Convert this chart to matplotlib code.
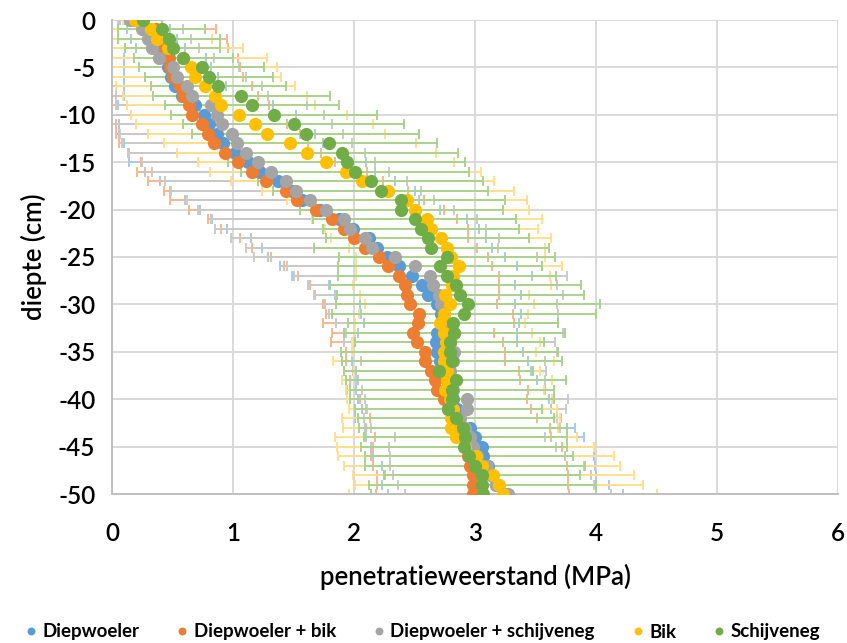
import matplotlib
matplotlib.use("Agg")
import matplotlib.pyplot as plt
from matplotlib.font_manager import FontProperties
import numpy as np

plt.rcParams['axes.unicode_minus'] = False
plt.rcParams['font.family'] = ['Lato', 'DejaVu Sans']

depth = list(range(0, -51, -1))

series_names = ["Diepwoeler", "Diepwoeler + bik", "Diepwoeler + schijveneg", "Bik", "Schijveneg"]

diepwoeler = [0.17, 0.30, 0.35, 0.40, 0.44, 0.46, 0.49, 0.52, 0.58, 0.69,
              0.76, 0.80, 0.87, 0.92, 1.02, 1.12, 1.22, 1.37, 1.49, 1.57,
              1.72, 1.88, 1.99, 2.12, 2.19, 2.27, 2.37, 2.48, 2.56, 2.61,
              2.69, 2.72, 2.72, 2.69, 2.68, 2.69, 2.71, 2.74, 2.77, 2.80,
              2.82, 2.85, 2.86, 2.96, 3.00, 3.06, 3.07, 3.11, 3.13, 3.17, 3.25]
diepwoeler_sd = [0.10, 0.18, 0.19, 0.20, 0.34, 0.36, 0.39, 0.42, 0.48, 0.64,
                 0.76, 0.74, 0.81, 0.82, 0.88, 0.98, 0.95, 0.97, 1.01, 0.97,
                 0.99, 1.05, 1.04, 0.97, 0.95, 0.98, 0.98, 0.99, 0.77, 0.77,
                 0.64, 0.66, 0.64, 0.66, 0.67, 0.71, 0.73, 0.72, 0.74, 0.78,
                 0.79, 0.78, 0.85, 0.87, 0.90, 0.92, 0.91, 0.88, 0.87, 0.94, 0.97]

dw_bik = [0.20, 0.36, 0.39, 0.43, 0.47, 0.48, 0.50, 0.56, 0.59, 0.64,
          0.66, 0.74, 0.79, 0.84, 0.93, 1.04, 1.16, 1.27, 1.44, 1.53,
          1.69, 1.82, 1.92, 2.00, 2.09, 2.21, 2.28, 2.37, 2.42, 2.44,
          2.46, 2.54, 2.53, 2.49, 2.52, 2.59, 2.59, 2.64, 2.67, 2.69,
          2.74, 2.78, 2.82, 2.86, 2.90, 2.94, 2.94, 2.96, 2.98, 2.98, 2.98]
dw_bik_sd = [0.10, 0.50, 0.56, 0.53, 0.57, 0.58, 0.58, 0.60, 0.62, 0.66,
             0.70, 0.71, 0.76, 0.78, 0.80, 0.80, 0.95, 0.97, 1.01, 1.05,
             1.05, 1.03, 1.02, 0.94, 0.93, 0.90, 0.86, 0.83, 0.78, 0.76,
             0.72, 0.77, 0.79, 0.67, 0.71, 0.66, 0.66, 0.72, 0.70, 0.75,
             0.69, 0.68, 0.69, 0.76, 0.73, 0.78, 0.80, 0.80, 0.79, 0.79, 0.80]

dw_schijf = [0.15, 0.25, 0.30, 0.33, 0.39, 0.50, 0.54, 0.62, 0.66, 0.82,
             0.87, 0.91, 0.99, 1.03, 1.11, 1.21, 1.31, 1.44, 1.52, 1.64,
             1.77, 1.92, 1.97, 2.09, 2.15, 2.34, 2.50, 2.63, 2.65, 2.70,
             2.72, 2.74, 2.77, 2.83, 2.79, 2.83, 2.82, 2.79, 2.80, 2.82,
             2.93, 2.93, 2.88, 2.92, 2.96, 2.98, 3.02, 3.10, 3.14, 3.17, 3.27]
dw_schijf_sd = [0.10, 0.34, 0.35, 0.39, 0.45, 0.55, 0.57, 0.62, 0.63, 0.79,
                0.88, 0.91, 0.92, 0.95, 0.98, 0.96, 0.98, 1.00, 1.03, 1.02,
                1.06, 1.10, 1.12, 1.11, 1.04, 1.17, 1.05, 1.13, 1.03, 1.03,
                0.96, 0.95, 0.92, 0.90, 0.87, 0.85, 0.76, 0.80, 0.78, 0.75,
                0.84, 0.82, 0.80, 0.78, 0.62, 0.69, 0.72, 0.80, 0.82, 0.81, 0.85]

bik = [0.19, 0.32, 0.37, 0.46, 0.59, 0.65, 0.69, 0.77, 0.85, 0.90,
       1.05, 1.18, 1.28, 1.47, 1.61, 1.77, 1.93, 2.07, 2.28, 2.44,
       2.50, 2.60, 2.64, 2.72, 2.77, 2.80, 2.87, 2.82, 2.81, 2.75,
       2.79, 2.74, 2.71, 2.74, 2.76, 2.74, 2.74, 2.77, 2.77, 2.75,
       2.79, 2.82, 2.80, 2.80, 2.84, 2.92, 3.01, 3.06, 3.15, 3.20, 3.23]
bik_sd = [0.10, 0.45, 0.46, 0.62, 0.69, 0.71, 0.71, 0.74, 0.76, 0.78,
          0.89, 0.98, 0.98, 1.04, 1.07, 1.06, 1.12, 1.09, 1.04, 0.99,
          0.95, 0.95, 0.88, 0.91, 0.81, 0.78, 0.85, 0.80, 0.82, 0.70,
          0.70, 0.70, 0.70, 0.73, 0.78, 0.76, 0.91, 0.77, 0.87, 0.82,
          0.85, 0.86, 0.90, 0.89, 1.00, 1.06, 1.14, 1.14, 1.16, 1.19, 1.27]

schijf = [0.26, 0.41, 0.47, 0.50, 0.59, 0.74, 0.80, 0.88, 1.07, 1.16,
          1.34, 1.50, 1.60, 1.79, 1.90, 1.94, 2.01, 2.14, 2.22, 2.39,
          2.39, 2.50, 2.55, 2.61, 2.64, 2.77, 2.71, 2.77, 2.84, 2.88,
          2.94, 2.91, 2.82, 2.83, 2.79, 2.79, 2.81, 2.70, 2.84, 2.81,
          2.81, 2.78, 2.84, 2.90, 2.92, 2.91, 2.95, 3.00, 3.06, 3.06, 3.07]
schijf_sd = [0.15, 0.36, 0.42, 0.39, 0.41, 0.52, 0.53, 0.56, 0.73, 0.72,
             0.85, 0.91, 0.94, 0.90, 0.96, 0.98, 0.94, 0.93, 0.89, 0.86,
             0.84, 0.84, 0.81, 0.84, 0.97, 0.89, 0.84, 0.90, 1.04, 1.02,
             1.09, 1.09, 0.87, 0.91, 0.78, 0.90, 0.91, 0.78, 0.91, 0.84,
             0.84, 0.77, 0.81, 0.86, 0.84, 0.85, 0.86, 0.91, 0.81, 0.94, 0.93]

means = [diepwoeler, dw_bik, dw_schijf, bik, schijf]
sds = [diepwoeler_sd, dw_bik_sd, dw_schijf_sd, bik_sd, schijf_sd]
colors = ["#5B9BD5", "#ED7D31", "#A5A5A5", "#FFC000", "#70AD47"]
err_colors = ["#A9CAEA", "#F6B88E", "#CACACA", "#FFE08C", "#AAD28E"]

xticks = [0, 1, 2, 3, 4, 5, 6]
yticks = [0, -5, -10, -15, -20, -25, -30, -35, -40, -45, -50]

fig = plt.figure(figsize=(8.47, 6.43), dpi=100)
ax = fig.add_axes([112/847, 1-494/643, (838-112)/847, (494-20)/643])

for i in range(5):
    ax.errorbar(means[i], depth, xerr=sds[i], fmt='none', ecolor=err_colors[i],
                elinewidth=1.4, capsize=3.5, capthick=1.4, zorder=2 + i * 0.01)
handles = []
for i in range(5):
    h = ax.plot(means[i], depth, 'o', color=colors[i], markersize=9.5,
                markeredgewidth=0, zorder=3 + i * 0.01, label=series_names[i])[0]
    handles.append(h)

ax.set_xlim(0, 6)
ax.set_ylim(-50, 0)
ax.set_xticks(xticks)
ax.set_yticks(yticks)
ax.set_xticklabels([str(t) for t in xticks])
ax.set_yticklabels([str(t) for t in yticks])
ax.grid(True, color="#D9D9D9", linewidth=1.4, zorder=0)
ax.set_axisbelow(True)
for s in ['top', 'right']:
    ax.spines[s].set_visible(False)
for s in ['left', 'bottom']:
    ax.spines[s].set_color("#BFBFBF")
    ax.spines[s].set_linewidth(1.4)
ax.tick_params(length=0, labelsize=17.5, colors='black')
ax.tick_params(axis='x', pad=20)
ax.tick_params(axis='y', pad=12)
for lab in ax.get_xticklabels() + ax.get_yticklabels():
    lab.set_fontweight('semibold')

ax.set_xlabel("penetratieweerstand (MPa)", fontsize=18.5, fontweight='semibold', labelpad=14)
ax.set_ylabel("diepte (cm)", fontsize=18.5, fontweight='semibold', labelpad=8)

legend_font = FontProperties(family=['Lato', 'DejaVu Sans'], weight='bold', size=13.5)
fig.legend(handles=handles, labels=series_names, loc='center', bbox_to_anchor=(0.497, 1-632/643),
           ncol=5, frameon=False, markerscale=0.6, handletextpad=0.1,
           columnspacing=1.8, handlelength=1.0, prop=legend_font)

fig.savefig("out.png", dpi=100)
